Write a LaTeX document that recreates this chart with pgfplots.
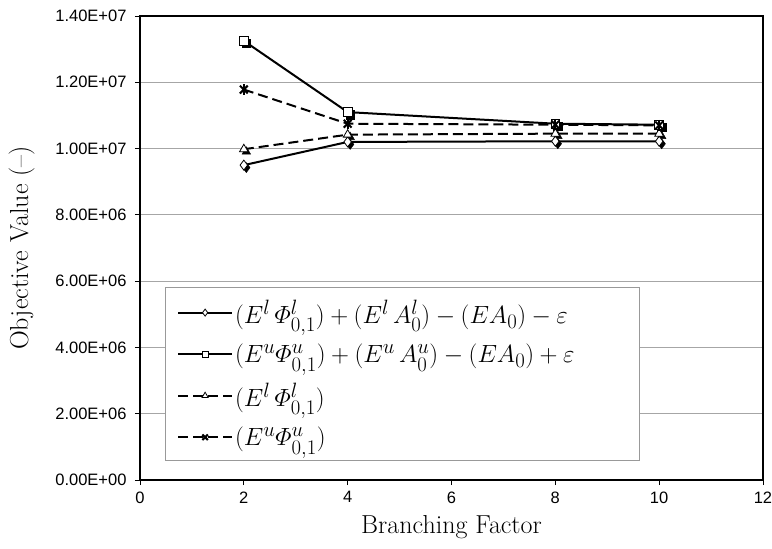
\documentclass[border=0pt]{standalone}
\usepackage{amsmath}
\usepackage{fontspec}
\usepackage{pgfplots}
\pgfplotsset{compat=1.18}
\newfontfamily\arial{Liberation Sans}
\begin{document}
\begin{tikzpicture}
\path[use as bounding box] (-140pt,-69pt) rectangle (632pt,480pt);
\begin{axis}[
  scale only axis, width=623pt, height=464pt,
  xmin=0, xmax=12, ymin=0, ymax=14000000,
  xtick={0,2,4,6,8,10,12}, xticklabels={0,2,4,6,8,10,12},
  ytick={0,2000000,4000000,6000000,8000000,10000000,12000000,14000000},
  yticklabels={0.00E+00,2.00E+06,4.00E+06,6.00E+06,8.00E+06,1.00E+07,1.20E+07,1.40E+07},
  scaled y ticks=false,
  ticklabel style={font=\arial\fontsize{16.5}{19}\selectfont},
  yticklabel style={xshift=-5pt},
  xticklabel style={yshift=-3pt},
  tick align=outside, major tick length=5pt,
  tick style={black, line width=0.8pt},
  xtick pos=left, ytick pos=left,
  ymajorgrids, grid style={gray!70, line width=0.8pt},
  axis line style={line width=1.8pt},
  xlabel={Branching Factor}, ylabel={Objective Value (--)},
  label style={font=\fontsize{26}{30}\selectfont},
  xlabel style={at={(rel axis cs:0.5,-0.101)}, anchor=center},
  ylabel style={at={(rel axis cs:-0.19,0.5)}, anchor=center},
  legend style={at={(0.04,0.416)}, anchor=north west, draw=gray!80,
    fill=white, font=\fontsize{29}{34}\selectfont, row sep=15pt,
    inner xsep=12pt, inner ysep=11pt, cells={anchor=west}},
  legend image code/.code={\draw[mark repeat=2,mark phase=2,line width=2pt,#1,every mark/.append style={scale=0.7}] plot coordinates {(0pt,0pt)(27pt,0pt)(54pt,0pt)};},
]
% shadows
\addplot[forget plot, only marks, black, mark=diamond*, mark size=5pt, mark options={fill=black, xshift=2.5pt, yshift=-2.5pt}] coordinates {(2,9500000)(4,10200000)(8,10220000)(10,10220000)};
\addplot[forget plot, only marks, black, mark=square*, mark size=4.3pt, mark options={fill=black, xshift=2.5pt, yshift=-2.5pt}] coordinates {(2,13250000)(4,11100000)(8,10750000)(10,10720000)};
\addplot[forget plot, only marks, black, mark=triangle*, mark size=5pt, mark options={fill=black, xshift=2.5pt, yshift=-2.5pt}] coordinates {(2,9980000)(4,10420000)(8,10450000)(10,10450000)};
% main series
\addplot[black, line width=2pt, mark=diamond*, mark size=5pt, mark options={fill=white, solid, line width=0.8pt}] coordinates {(2,9500000)(4,10200000)(8,10220000)(10,10220000)};
\addlegendentry{$(E^l\,\varPhi^l_{0,1})+(E^l\,A^l_0)-(EA_0)-\varepsilon$\rule{57pt}{0pt}}
\addplot[black, line width=2pt, mark=square*, mark size=4.3pt, mark options={fill=white, solid, line width=0.8pt}] coordinates {(2,13250000)(4,11100000)(8,10750000)(10,10720000)};
\addlegendentry{$(E^u\varPhi^u_{0,1})+(E^u\,A^u_0)-(EA_0)+\varepsilon$}
\addplot[black, line width=2pt, dash pattern=on 10pt off 5pt, mark=triangle*, mark size=5pt, mark options={fill=white, solid, line width=0.8pt}] coordinates {(2,9980000)(4,10420000)(8,10450000)(10,10450000)};
\addlegendentry{$(E^l\,\varPhi^l_{0,1})$}
\addplot[black, line width=2pt, dash pattern=on 10pt off 5pt, mark=x, mark size=5.5pt, mark options={solid, line width=2pt}] coordinates {(2,11780000)(4,10750000)(8,10720000)(10,10700000)};
\addlegendentry{$(E^u\varPhi^u_{0,1})$}
\addplot[forget plot, only marks, black, mark=|, mark size=5.5pt, mark options={solid, line width=2pt}] coordinates {(2,11780000)(4,10750000)(8,10720000)(10,10700000)};
\end{axis}
\end{tikzpicture}
\end{document}
